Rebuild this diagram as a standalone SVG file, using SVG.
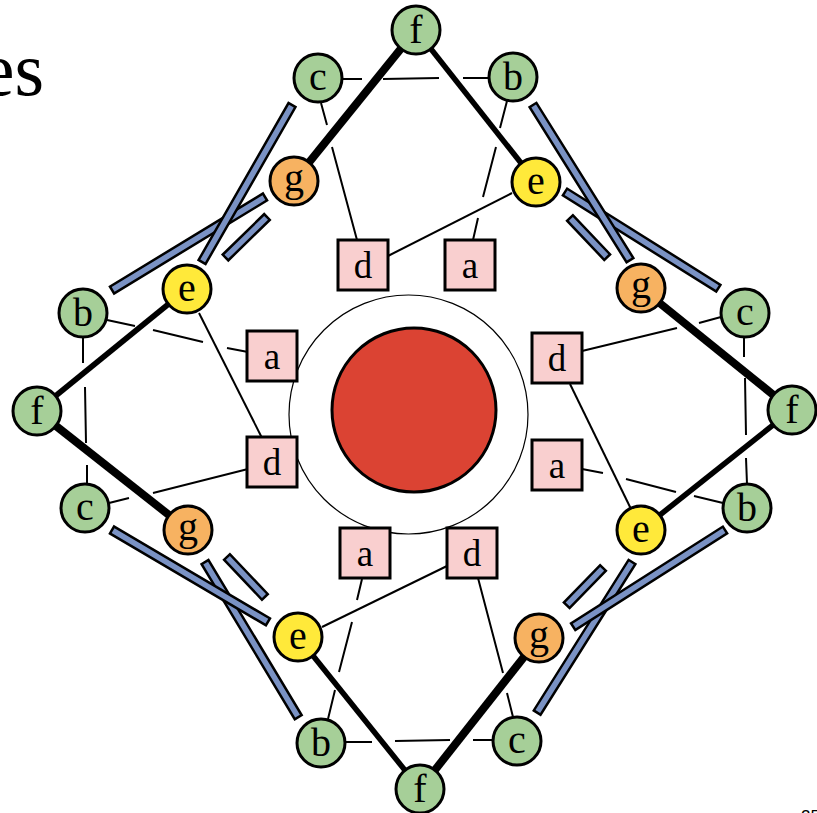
<svg xmlns="http://www.w3.org/2000/svg" width="817" height="813" viewBox="0 0 817 813">
  <defs>
    <style>
      .thin { stroke: #000; stroke-width: 2; fill: none; stroke-linecap: butt; }
      .heavy { stroke: #000; stroke-width: 8; fill: none; }
      .medium { stroke: #000; stroke-width: 5.5; fill: none; }
      .bar { fill: #7a92c4; stroke: #000; stroke-width: 2.5; }
      .node circle { stroke: #000; stroke-width: 3; }
      .node rect { fill: #f9cfcf; stroke: #000; stroke-width: 3; }
      .green circle { fill: #a6cf98; }
      .yellow circle { fill: #ffe93a; }
      .orange circle { fill: #f7b261; }
      .lbl { font-family: "Liberation Serif", "Times New Roman", serif; font-size: 40px; text-anchor: middle; fill: #000; }
      .blbl { font-family: "Liberation Serif", "Times New Roman", serif; font-size: 37px; text-anchor: middle; fill: #000; }
    </style>
  </defs>
  <rect width="817" height="813" fill="#fff"/>

  <!-- heading fragment and page number -->
  <text x="44" y="95" font-family="Liberation Serif, Times New Roman, serif" font-size="76" text-anchor="end">es</text>
  <text x="801" y="822" font-family="Liberation Sans, Arial, sans-serif" font-size="17">25</text>

  <!-- central body -->
  <g id="core">
    <circle cx="408.5" cy="414.5" r="119.5" fill="none" stroke="#000" stroke-width="1.2"/>
    <circle cx="414" cy="410" r="82" fill="#db4333" stroke="#000" stroke-width="3"/>
  </g>

  <g id="connectors">
    <!-- thin links, broken where they pass under other links -->
    <path class="thin" d="M342,79 L362,79 M383,79 L439,78 M463,78 L489,78"/>
    <path class="thin" d="M321,103 L327,125 M332,147 L357,240"/>
    <path class="thin" d="M507,101 L500,128 M496,147 L483,197 M478,218 L473,240"/>
    <path class="thin" d="M512,193 L388,256"/>

    <path class="thin" d="M107,320 L135,326 M153,330 L203,342 M227,348 L248,352"/>
    <path class="thin" d="M199,313 L262,438"/>
    <path class="thin" d="M83,337 L83,363 M85,387 L86,443 M87,465 L87,484"/>
    <path class="thin" d="M109,503 L129,498 M153,493 L248,469"/>

    <path class="thin" d="M362,579 L357,600 M352,622 L339,672 M335,690 L328,719"/>
    <path class="thin" d="M322,627 L447,566"/>
    <path class="thin" d="M345,742 L372,742 M395,741 L450,740 M473,740 L493,740"/>
    <path class="thin" d="M478,578 L503,673 M507,693 L513,717"/>

    <path class="thin" d="M582,351 L677,328 M699,323 L721,317"/>
    <path class="thin" d="M570,384 L631,509"/>
    <path class="thin" d="M582,469 L603,473 M626,479 L676,492 M694,496 L723,503"/>
    <path class="thin" d="M744,337 L744,357 M745,378 L746,435 M746,458 L747,484"/>

    <!-- heavy links -->
    <line class="heavy" x1="416" y1="30" x2="294" y2="181"/>
    <line class="medium" x1="416" y1="30" x2="536" y2="182"/>
    <line class="medium" x1="37" y1="411" x2="187" y2="289"/>
    <line class="heavy" x1="37" y1="411" x2="188" y2="530"/>
    <line class="medium" x1="420" y1="789" x2="298" y2="637"/>
    <line class="heavy" x1="420" y1="789" x2="539" y2="638"/>
    <line class="heavy" x1="792" y1="410" x2="641" y2="288"/>
    <line class="medium" x1="792" y1="410" x2="641" y2="530"/>

    <!-- blue bars -->
    <rect class="bar" x="0" y="-4" width="179" height="8" transform="translate(265,197) rotate(148.7)"/>
    <rect class="bar" x="0" y="-4" width="181" height="8" transform="translate(292,105) rotate(119.8)"/>
    <rect class="bar" x="0" y="-4" width="58" height="8" transform="translate(267,217) rotate(135.7)"/>

    <rect class="bar" x="0" y="-4" width="181" height="8" transform="translate(565,192) rotate(32.1)"/>
    <rect class="bar" x="0" y="-4" width="183" height="8" transform="translate(533,105) rotate(58)"/>
    <rect class="bar" x="0" y="-4" width="54" height="8" transform="translate(570,218) rotate(46.5)"/>

    <rect class="bar" x="0" y="-4" width="181" height="8" transform="translate(205,562) rotate(59)"/>
    <rect class="bar" x="0" y="-4" width="181" height="8" transform="translate(112,530) rotate(30.5)"/>
    <rect class="bar" x="0" y="-4" width="55" height="8" transform="translate(227,557) rotate(46.5)"/>

    <rect class="bar" x="0" y="-4" width="178" height="8" transform="translate(632,562) rotate(122.2)"/>
    <rect class="bar" x="0" y="-4" width="180" height="8" transform="translate(725,530) rotate(147.5)"/>
    <rect class="bar" x="0" y="-4" width="52" height="8" transform="translate(603,568) rotate(134.2)"/>
  </g>

  <!-- top group -->
  <g id="f-top" class="node green"><circle cx="416" cy="30" r="24"/><text class="lbl" x="416" y="43">f</text></g>
  <g id="c-top" class="node green"><circle cx="318" cy="78" r="24"/><text class="lbl" x="318" y="90">c</text></g>
  <g id="b-top" class="node green"><circle cx="513" cy="77" r="24"/><text class="lbl" x="513" y="90">b</text></g>
  <g id="g-top" class="node orange"><circle cx="294" cy="181" r="24"/><text class="lbl" x="294" y="191">g</text></g>
  <g id="e-top" class="node yellow"><circle cx="536" cy="182" r="24"/><text class="lbl" x="536" y="194">e</text></g>
  <g id="d-top" class="node"><rect x="338" y="240" width="50" height="50"/><text class="blbl" x="363" y="278">d</text></g>
  <g id="a-top" class="node"><rect x="445" y="240" width="50" height="50"/><text class="blbl" x="470" y="278">a</text></g>

  <!-- left group -->
  <g id="e-left" class="node yellow"><circle cx="187" cy="289" r="24"/><text class="lbl" x="187" y="301">e</text></g>
  <g id="b-left" class="node green"><circle cx="83" cy="313" r="24"/><text class="lbl" x="83" y="326">b</text></g>
  <g id="f-left" class="node green"><circle cx="37" cy="411" r="24"/><text class="lbl" x="37" y="424">f</text></g>
  <g id="c-left" class="node green"><circle cx="85" cy="508" r="24"/><text class="lbl" x="85" y="520">c</text></g>
  <g id="g-left" class="node orange"><circle cx="188" cy="530" r="24"/><text class="lbl" x="188" y="540">g</text></g>
  <g id="a-left" class="node"><rect x="247" y="331" width="50" height="50"/><text class="blbl" x="272" y="369">a</text></g>
  <g id="d-left" class="node"><rect x="247" y="437" width="50" height="50"/><text class="blbl" x="272" y="475">d</text></g>

  <!-- bottom group -->
  <g id="e-bottom" class="node yellow"><circle cx="298" cy="637" r="24"/><text class="lbl" x="298" y="649">e</text></g>
  <g id="b-bottom" class="node green"><circle cx="321" cy="743" r="24"/><text class="lbl" x="321" y="756">b</text></g>
  <g id="f-bottom" class="node green"><circle cx="420" cy="789" r="24"/><text class="lbl" x="420" y="802">f</text></g>
  <g id="c-bottom" class="node green"><circle cx="517" cy="741" r="24"/><text class="lbl" x="517" y="753">c</text></g>
  <g id="g-bottom" class="node orange"><circle cx="539" cy="638" r="24"/><text class="lbl" x="539" y="648">g</text></g>
  <g id="a-bottom" class="node"><rect x="340" y="528" width="50" height="50"/><text class="blbl" x="365" y="566">a</text></g>
  <g id="d-bottom" class="node"><rect x="447" y="528" width="50" height="50"/><text class="blbl" x="472" y="566">d</text></g>

  <!-- right group -->
  <g id="g-right" class="node orange"><circle cx="641" cy="288" r="24"/><text class="lbl" x="641" y="298">g</text></g>
  <g id="c-right" class="node green"><circle cx="745" cy="313" r="24"/><text class="lbl" x="745" y="325">c</text></g>
  <g id="f-right" class="node green"><circle cx="792" cy="410" r="24"/><text class="lbl" x="792" y="423">f</text></g>
  <g id="b-right" class="node green"><circle cx="747" cy="508" r="24"/><text class="lbl" x="747" y="521">b</text></g>
  <g id="e-right" class="node yellow"><circle cx="641" cy="530" r="24"/><text class="lbl" x="641" y="542">e</text></g>
  <g id="d-right" class="node"><rect x="532" y="333" width="50" height="50"/><text class="blbl" x="557" y="371">d</text></g>
  <g id="a-right" class="node"><rect x="532" y="440" width="50" height="50"/><text class="blbl" x="557" y="478">a</text></g>
</svg>
